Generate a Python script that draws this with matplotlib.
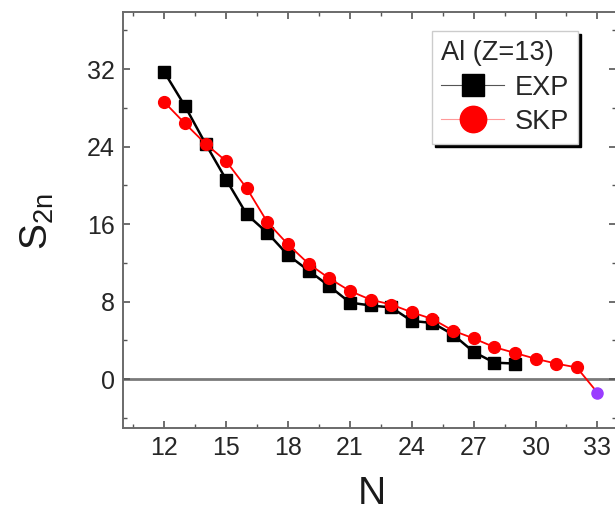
import matplotlib
matplotlib.use("Agg")
import matplotlib.pyplot as plt
from matplotlib.lines import Line2D
from matplotlib.ticker import MultipleLocator

plt.rcParams['font.family'] = ['Liberation Sans', 'DejaVu Sans']
plt.rcParams['mathtext.fontset'] = 'custom'
plt.rcParams['mathtext.rm'] = 'Liberation Sans'

# Two-neutron separation energies for Al (Z=13)
n_exp = [12, 13, 14, 15, 16, 17, 18, 19, 20, 21, 22, 23, 24, 25, 26, 27, 28, 29]
s2n_exp = [31.7, 28.2, 24.3, 20.6, 17.0, 15.1, 12.8, 11.2, 9.6, 7.9, 7.6, 7.4,
           6.0, 5.8, 4.6, 2.8, 1.7, 1.6]

n_skp = [12, 13, 14, 15, 16, 17, 18, 19, 20, 21, 22, 23, 24, 25, 26, 27, 28,
         29, 30, 31, 32, 33]
s2n_skp = [28.6, 26.4, 24.3, 22.5, 19.7, 16.2, 13.9, 11.9, 10.4, 9.1, 8.2, 7.7,
           6.9, 6.2, 5.0, 4.2, 3.3, 2.7, 2.1, 1.6, 1.2, -1.4]

# Drip-line point (first unbound isotope)
n_drip = [33]
s2n_drip = [-1.4]

x_ticks = [12, 15, 18, 21, 24, 27, 30, 33]
y_ticks = [0, 8, 16, 24, 32]

W, H = 615, 513
fig = plt.figure(figsize=(W / 100, H / 100), dpi=100)
ax = fig.add_axes([123 / W, (H - 428) / H, (616 - 123) / W, (428 - 12) / H])

ax.axhline(0, color='#7a7a7a', lw=2.0, zorder=1)

ax.plot(n_exp, s2n_exp, color='black', lw=1.8, marker='s', ms=8,
        mfc='black', mec='black', zorder=3)
ax.plot(n_skp, s2n_skp, color='#ff0000', lw=1.3, marker='o', ms=8.5,
        mfc='#ff0000', mec='#ff0000', zorder=4, markevery=list(range(len(n_skp) - 1)))
ax.plot(n_drip, s2n_drip, linestyle='none', marker='o', ms=8,
        mfc='#9a3cff', mec='#9a3cff', zorder=5)

ax.set_xlim(10, 33.9)
ax.set_ylim(-5.05, 37.9)
ax.set_xticks(x_ticks)
ax.set_yticks(y_ticks)
ax.xaxis.set_minor_locator(MultipleLocator(1.5))
ax.yaxis.set_minor_locator(MultipleLocator(4))

for sp in ax.spines.values():
    sp.set_color('#6a6a6a')
    sp.set_linewidth(1.4)

ax.tick_params(which='both', direction='in', top=True, right=True,
               colors='#555555', labelcolor='#262626', labelsize=18)
ax.tick_params(which='major', length=5, width=1.2)
ax.tick_params(which='minor', length=3, width=1.0)
ax.tick_params(axis='y', pad=6)
ax.tick_params(axis='x', pad=6)

fig.text(372 / W, 1 / H, 'N', ha='center', va='bottom', fontsize=28,
         color='#1a1a1a')
fig.text(37 / W, 1 - 222 / H, r'S$_{\mathregular{2n}}$', rotation=90,
         ha='center', va='center', fontsize=28, color='#1a1a1a')

handles = [
    Line2D([], [], color='#555555', lw=0.8, marker='s', ms=16,
           mfc='black', mec='black'),
    Line2D([], [], color='#ff9999', lw=0.8, marker='o', ms=19,
           mfc='#ff0000', mec='#ff0000'),
]
leg = ax.legend(handles, ['EXP', 'SKP'], title='Al (Z=13)',
                loc='upper left', bbox_to_anchor=(432 / W, 1 - 31 / H),
                bbox_transform=fig.transFigure, borderaxespad=0,
                fontsize=19.5, title_fontsize=19.5, handlelength=2.3,
                handletextpad=0.4, labelspacing=0.3, borderpad=0.35,
                frameon=True, fancybox=False, alignment='left',
                shadow={'color': 'black', 'alpha': 1.0})
leg.get_frame().set_edgecolor('#cccccc')
leg.get_frame().set_linewidth(1.0)
for t in leg.get_texts():
    t.set_color('#262626')
leg.get_title().set_color('#262626')

fig.savefig('out.png', dpi=100)
